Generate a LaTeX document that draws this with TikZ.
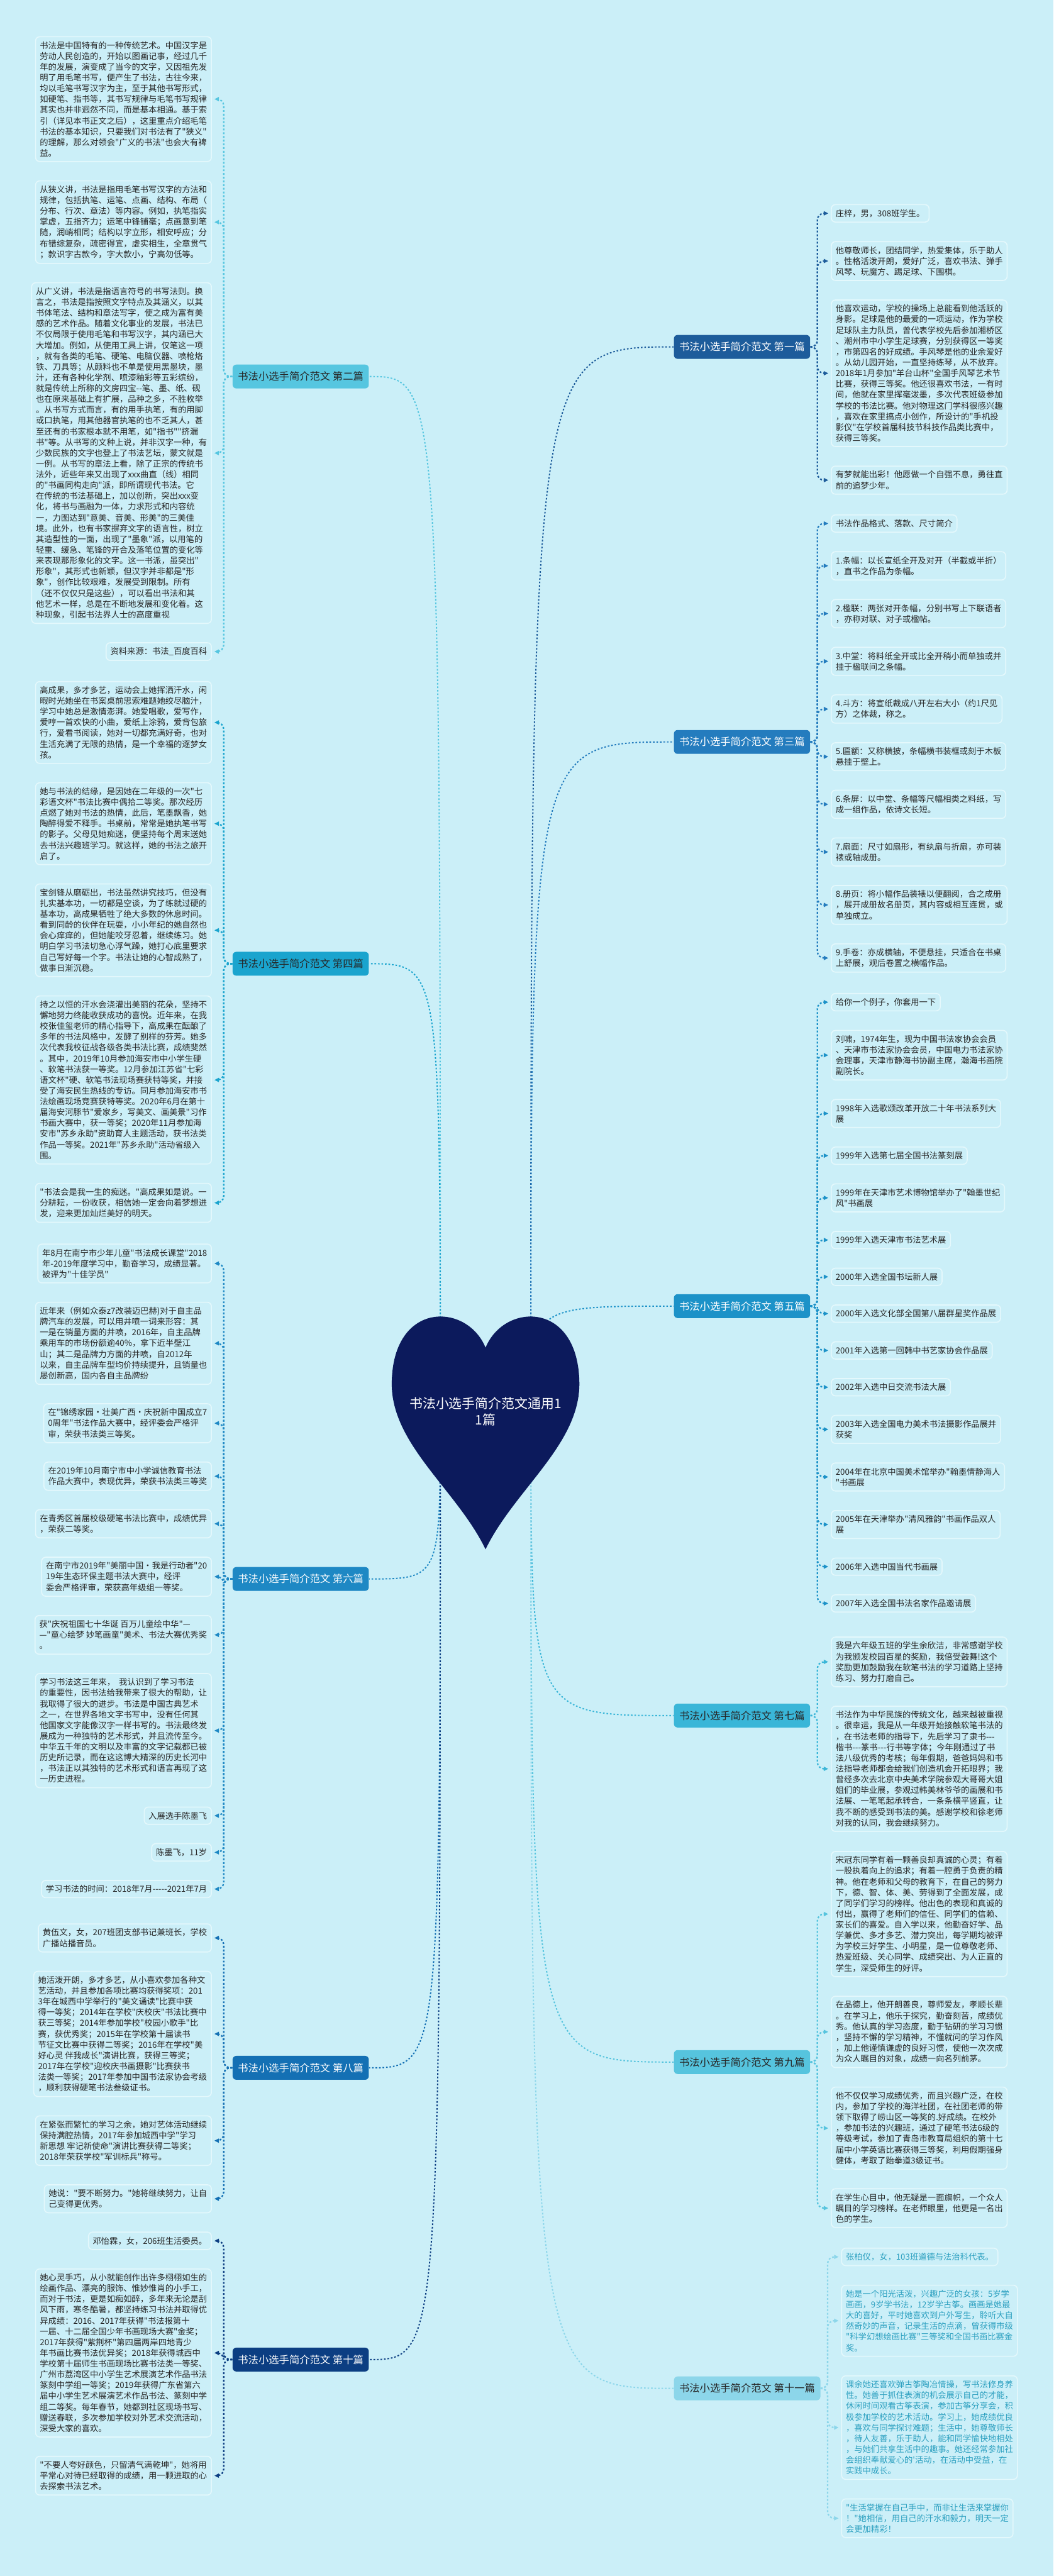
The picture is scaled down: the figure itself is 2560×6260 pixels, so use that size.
\documentclass[tikz,border=0pt]{standalone}
\usepackage{fontspec}
\setmainfont{Noto Sans CJK SC}[Ligatures=TeXOff]
\usetikzlibrary{arrows.meta,positioning,calc}

\definecolor{mapbg}  {RGB}{203,239,248}
\definecolor{boxrim} {RGB}{228,248,252}
\definecolor{inkdark}{RGB}{38,38,38}
\definecolor{inkteal}{RGB}{44,160,192}
\definecolor{hubnavy}{RGB}{12,26,92}
\definecolor{br1} {RGB}{29,92,155}
\definecolor{br2} {RGB}{86,198,224}
\definecolor{br3} {RGB}{36,124,190}
\definecolor{br4} {RGB}{26,164,206}
\definecolor{br5} {RGB}{28,146,200}
\definecolor{br6} {RGB}{30,136,196}
\definecolor{br7} {RGB}{58,182,216}
\definecolor{br8} {RGB}{20,112,180}
\definecolor{br9} {RGB}{86,196,222}
\definecolor{br10}{RGB}{12,62,130}
\definecolor{br11}{RGB}{140,214,234}

\begin{document}
\begin{tikzpicture}[
  x=0.1mm, y=-0.1mm,
  note/.style={draw=boxrim, line width=0.25mm, rounded corners=1mm, fill=mapbg,
               align=left, inner xsep=1.05mm, inner ysep=1.15mm, text=inkdark,
               font=\fontsize{5.78pt}{7.45pt}\selectfont},
  rnote/.style={note, below=4.5mm of #1.south west, anchor=north west},
  lnote/.style={note, below=4.45mm of #1.south east, anchor=north east},
  topic/.style={rounded corners=0.9mm, minimum height=5.8mm, inner xsep=1.3mm,
                inner ysep=0.5mm, font=\fontsize{7.1pt}{8.5pt}\selectfont},
  link/.style={line width=0.35mm, dash pattern=on 0.45mm off 0.45mm,
               rounded corners=1.6mm, -{Triangle[length=1.1mm,width=1mm]},
               shorten >=0.6mm},
  spoke/.style={line width=0.3mm, dash pattern=on 0.4mm off 0.45mm},
]

%% page
\fill[mapbg] (0,0) rectangle (2560,6260);
\useasboundingbox (0,0) rectangle (2560,6260);

%% branch topics
\node[topic,fill=br1,text=white,anchor=west] (t1) at (1637,843) {书法小选手简介范文 第一篇};
\node[topic,fill=br2,text=inkdark,anchor=east] (t2) at (897,915) {书法小选手简介范文 第二篇};
\node[topic,fill=br3,text=white,anchor=west] (t3) at (1637,1803) {书法小选手简介范文 第三篇};
\node[topic,fill=br4,text=inkdark,anchor=east] (t4) at (897,2342) {书法小选手简介范文 第四篇};
\node[topic,fill=br5,text=white,anchor=west] (t5) at (1637,3174) {书法小选手简介范文 第五篇};
\node[topic,fill=br6,text=white,anchor=east] (t6) at (897,3837) {书法小选手简介范文 第六篇};
\node[topic,fill=br7,text=inkdark,anchor=west] (t7) at (1637,4169) {书法小选手简介范文 第七篇};
\node[topic,fill=br8,text=white,anchor=east] (t8) at (897,5025) {书法小选手简介范文 第八篇};
\node[topic,fill=br9,text=inkdark,anchor=west] (t9) at (1637,5011) {书法小选手简介范文 第九篇};
\node[topic,fill=br10,text=white,anchor=east] (t10) at (897,5734) {书法小选手简介范文 第十篇};
\node[topic,fill=br11,text=inkdark,anchor=west] (t11) at (1637,5804) {书法小选手简介范文 第十一篇};

%% first
\node[note,anchor=north west] (b1a) at (2019,496) {庄梓，男，308班学生。};
\node[rnote=b1a] (b1b) {他尊敬师长，团结同学，热爱集体，乐于助人\\。性格活泼开朗，爱好广泛，喜欢书法、弹手\\风琴、玩魔方、踢足球、下围棋。};
\node[rnote=b1b] (b1c) {他喜欢运动，学校的操场上总能看到他活跃的\\身影。足球是他的最爱的一项运动，作为学校\\足球队主力队员，曾代表学校先后参加湘桥区\\、潮州市中小学生足球赛，分别获得区一等奖\\，市第四名的好成绩。手风琴是他的业余爱好\\。从幼儿园开始，一直坚持练琴，从不放弃。\\2018年1月参加"羊台山杯"全国手风琴艺术节\\比赛，获得三等奖。他还很喜欢书法，一有时\\间，他就在家里挥毫泼墨，多次代表班级参加\\学校的书法比赛。他对物理这门学科很感兴趣\\，喜欢在家里搞点小创作，所设计的"手机投\\影仪"在学校首届科技节科技作品类比赛中，\\获得三等奖。};
\node[rnote=b1c] (b1d) {有梦就能出彩！他愿做一个自强不息，勇往直\\前的追梦少年。};

%% second
\node[note,anchor=north east] (b2a) at (515,88) {书法是中国特有的一种传统艺术。中国汉字是\\劳动人民创造的，开始以图画记事，经过几千\\年的发展，演变成了当今的文字，又因祖先发\\明了用毛笔书写，便产生了书法，古往今来，\\均以毛笔书写汉字为主，至于其他书写形式，\\如硬笔、指书等，其书写规律与毛笔书写规律\\其实也并非迥然不同，而是基本相通。基于索\\引（详见本书正文之后），这里重点介绍毛笔\\书法的基本知识，只要我们对书法有了"狭义"\\的理解，那么对领会"广义的书法"也会大有裨\\益。};
\node[lnote=b2a] (b2b) {从狭义讲，书法是指用毛笔书写汉字的方法和\\规律，包括执笔、运笔、点画、结构、布局（\\分布、行次、章法）等内容。例如，执笔指实\\掌虚，五指齐力；运笔中锋铺毫；点画意到笔\\随，润峭相同；结构以字立形，相安呼应；分\\布错综复杂，疏密得宜，虚实相生，全章贯气\\；款识字古款今，字大款小，宁高勿低等。};
\node[lnote=b2b] (b2c) {从广义讲，书法是指语言符号的书写法则。换\\言之，书法是指按照文字特点及其涵义，以其\\书体笔法、结构和章法写字，使之成为富有美\\感的艺术作品。随着文化事业的发展，书法已\\不仅局限于使用毛笔和书写汉字，其内涵已大\\大增加。例如，从使用工具上讲，仅笔这一项\\，就有各类的毛笔、硬笔、电脑仪器、喷枪烙\\铁、刀具等；从颜料也不单是使用黑墨块，墨\\汁，还有各种化学剂、喷漆釉彩等五彩缤纷，\\就是传统上所称的文房四宝--笔、墨、纸、砚\\也在原来基础上有扩展，品种之多，不胜枚举\\。从书写方式而言，有的用手执笔，有的用脚\\或口执笔，用其他器官执笔的也不乏其人，甚\\至还有的书家根本就不用笔，如"指书""挤漏\\书"等。从书写的文种上说，并非汉字一种，有\\少数民族的文字也登上了书法艺坛，蒙文就是\\一例。从书写的章法上看，除了正宗的传统书\\法外，近些年来又出现了xxx曲直（线）相同\\的"书画同构走向"派，即所谓现代书法。它\\在传统的书法基础上，加以创新，突出xxx变\\化，将书与画融为一体，力求形式和内容统\\一，力图达到"意美、音美、形美"的三美佳\\境。此外，也有书家摒弃文字的语言性，树立\\其造型性的一面，出现了"墨象"派，以用笔的\\轻重、缓急、笔锋的开合及落笔位置的变化等\\来表现那形象化的文字。这一书派，虽突出"\\形象"，其形式也新颖，但汉字并非都是"形\\象"，创作比较艰难，发展受到限制。所有\\（还不仅仅只是这些），可以看出书法和其\\他艺术一样，总是在不断地发展和变化着。这\\种现象，引起书法界人士的高度重视};
\node[lnote=b2c] (b2d) {资料来源：书法\_百度百科};

%% third
\node[note,anchor=north west] (b3a) at (2019,1250) {书法作品格式、落款、尺寸简介};
\node[rnote=b3a] (b3b) {1.条幅：以长宣纸全开及对开（半截或半折）\\，直书之作品为条幅。};
\node[rnote=b3b] (b3c) {2.楹联：两张对开条幅，分别书写上下联语者\\，亦称对联、对子或楹帖。};
\node[rnote=b3c] (b3d) {3.中堂：将料纸全开或比全开稍小而单独或并\\挂于楹联间之条幅。};
\node[rnote=b3d] (b3e) {4.斗方：将宣纸裁成八开左右大小（约1尺见\\方）之体裁，称之。};
\node[rnote=b3e] (b3f) {5.匾额：又称横披，条幅横书装框或刻于木板\\悬挂于壁上。};
\node[rnote=b3f] (b3g) {6.条屏：以中堂、条幅等尺幅相类之料纸，写\\成一组作品，依诗文长短。};
\node[rnote=b3g] (b3h) {7.扇面：尺寸如扇形，有纨扇与折扇，亦可装\\裱或轴成册。};
\node[rnote=b3h] (b3i) {8.册页：将小幅作品装裱以便翻阅，合之成册\\，展开成册故名册页，其内容或相互连贯，或\\单独成立。};
\node[rnote=b3i] (b3j) {9.手卷：亦成横轴，不便悬挂，只适合在书桌\\上舒展，观后卷置之横幅作品。};

%% fourth
\node[note,anchor=north east] (b4a) at (515,1655) {高成果，多才多艺，运动会上她挥洒汗水，闲\\暇时光她坐在书案桌前思索难题她绞尽脑汁，\\学习中她总是激情澎湃。她爱唱歌，爱写作，\\爱哼一首欢快的小曲，爱纸上涂鸦，爱背包旅\\行，爱看书阅读，她对一切都充满好奇，也对\\生活充满了无限的热情，是一个幸福的逐梦女\\孩。};
\node[lnote=b4a] (b4b) {她与书法的结缘，是因她在二年级的一次"七\\彩语文杯"书法比赛中偶拾二等奖。那次经历\\点燃了她对书法的热情，此后，笔墨飘香，她\\陶醉得爱不释手。书桌前，常常是她执笔书写\\的影子。父母见她痴迷，便坚持每个周末送她\\去书法兴趣班学习。就这样，她的书法之旅开\\启了。};
\node[lnote=b4b] (b4c) {宝剑锋从磨砺出，书法虽然讲究技巧，但没有\\扎实基本功，一切都是空谈，为了练就过硬的\\基本功，高成果牺牲了绝大多数的休息时间。\\看到同龄的伙伴在玩耍，小小年纪的她自然也\\会心痒痒的，但她能咬牙忍着，继续练习。她\\明白学习书法切急心浮气躁，她打心底里要求\\自己写好每一个字。书法让她的心智成熟了，\\做事日渐沉稳。};
\node[lnote=b4c] (b4d) {持之以恒的汗水会浇灌出美丽的花朵，坚持不\\懈地努力终能收获成功的喜悦。近年来，在我\\校张佳玺老师的精心指导下，高成果在酝酿了\\多年的书法风格中，发酵了别样的芬芳。她多\\次代表我校征战各级各类书法比赛，成绩斐然\\。其中，2019年10月参加海安市中小学生硬\\、软笔书法获一等奖。12月参加江苏省"七彩\\语文杯"硬、软笔书法现场赛获特等奖，并接\\受了海安民生热线的专访。同月参加海安市书\\法绘画现场竞赛获特等奖。2020年6月在第十\\届海安河豚节"爱家乡，写美文、画美景"习作\\书画大赛中，获一等奖；2020年11月参加海\\安市"苏乡永助"资助育人主题活动，获书法类\\作品一等奖。2021年"苏乡永助"活动省级入\\围。};
\node[lnote=b4d] (b4e) {"书法会是我一生的痴迷。"高成果如是说。一\\分耕耘，一份收获，相信她一定会向着梦想进\\发，迎来更加灿烂美好的明天。};

%% fifth
\node[note,anchor=north west] (b5a) at (2019,2413) {给你一个例子，你套用一下};
\node[rnote=b5a] (b5b) {刘啸，1974年生，现为中国书法家协会会员\\、天津市书法家协会会员，中国电力书法家协\\会理事，天津市静海书协副主席，瀚海书画院\\副院长。};
\node[rnote=b5b] (b5c) {1998年入选歌颂改革开放二十年书法系列大\\展};
\node[rnote=b5c] (b5d) {1999年入选第七届全国书法篆刻展};
\node[rnote=b5d] (b5e) {1999年在天津市艺术博物馆举办了"翰墨世纪\\风"书画展};
\node[rnote=b5e] (b5f) {1999年入选天津市书法艺术展};
\node[rnote=b5f] (b5g) {2000年入选全国书坛新人展};
\node[rnote=b5g] (b5h) {2000年入选文化部全国第八届群星奖作品展};
\node[rnote=b5h] (b5i) {2001年入选第一回韩中书艺家协会作品展};
\node[rnote=b5i] (b5j) {2002年入选中日交流书法大展};
\node[rnote=b5j] (b5k) {2003年入选全国电力美术书法摄影作品展并\\获奖};
\node[rnote=b5k] (b5l) {2004年在北京中国美术馆举办"翰墨情静海人\\"书画展};
\node[rnote=b5l] (b5m) {2005年在天津举办"清风雅韵"书画作品双人\\展};
\node[rnote=b5m] (b5n) {2006年入选中国当代书画展};
\node[rnote=b5n] (b5o) {2007年入选全国书法名家作品邀请展};

%% sixth
\node[note,anchor=north east] (b6a) at (515,3022) {年8月在南宁市少年儿童"书法成长课堂"2018\\年-2019年度学习中，勤奋学习，成绩显著。\\被评为"十佳学员"};
\node[lnote=b6a] (b6b) {近年来（例如众泰z7改装迈巴赫)对于自主品\\牌汽车的发展，可以用井喷一词来形容：其\\一是在销量方面的井喷，2016年，自主品牌\\乘用车的市场份额逾40\%，拿下近半壁江\\山；其二是品牌力方面的井喷，自2012年\\以来，自主品牌车型均价持续提升，且销量也\\屡创新高，国内各自主品牌纷};
\node[lnote=b6b] (b6c) {在"锦绣家园•壮美广西•庆祝新中国成立7\\0周年"书法作品大赛中，经评委会严格评\\审，荣获书法类三等奖。};
\node[lnote=b6c] (b6d) {在2019年10月南宁市中小学诚信教育书法\\作品大赛中，表现优异，荣获书法类三等奖};
\node[lnote=b6d] (b6e) {在青秀区首届校级硬笔书法比赛中，成绩优异\\，荣获二等奖。};
\node[lnote=b6e] (b6f) {在南宁市2019年"美丽中国•我是行动者"20\\19年生态环保主题书法大赛中，经评\\委会严格评审，荣获高年级组一等奖。};
\node[lnote=b6f] (b6g) {获"庆祝祖国七十华诞 百万儿童绘中华"—\\—"童心绘梦 妙笔画童"美术、书法大赛优秀奖\\。};
\node[lnote=b6g] (b6h) {学习书法这三年来，\ \ 我认识到了学习书法\\的重要性，因书法给我带来了很大的帮助，让\\我取得了很大的进步。书法是中国古典艺术\\之一，在世界各地文字书写中，没有任何其\\他国家文字能像汉字一样书写的。书法最终发\\展成为一种独特的艺术形式，并且流传至今。\\中华五千年的文明以及丰富的文字记载都已被\\历史所记录，而在这这博大精深的历史长河中\\，书法正以其独特的艺术形式和语言再现了这\\一历史进程。};
\node[lnote=b6h] (b6i) {入展选手陈墨飞};
\node[lnote=b6i] (b6j) {陈墨飞，11岁};
\node[lnote=b6j] (b6k) {学习书法的时间：2018年7月-----2021年7月};

%% seventh
\node[note,anchor=north west] (b7a) at (2019,3977) {我是六年级五班的学生余欣洁，非常感谢学校\\为我颁发校园百星的奖励，我倍受鼓舞!这个\\奖励更加鼓励我在软笔书法的学习道路上坚持\\练习、努力打磨自己。};
\node[rnote=b7a] (b7b) {书法作为中华民族的传统文化，越来越被重视\\。很幸运，我是从一年级开始接触软笔书法的\\，在书法老师的指导下，先后学习了隶书---\\楷书---篆书---行书等字体；今年刚通过了书\\法八级优秀的考核；每年假期，爸爸妈妈和书\\法指导老师都会给我们创造机会开拓眼界；我\\曾经多次去北京中央美术学院参观大哥哥大姐\\姐们的毕业展，参观过韩美林爷爷的画展和书\\法展、一笔笔起承转合，一条条横平竖直，让\\我不断的感受到书法的美。感谢学校和徐老师\\对我的认同，我会继续努力。};

%% eighth
\node[note,anchor=north east] (b8a) at (515,4674) {黄伍文，女，207班团支部书记兼班长，学校\\广播站播音员。};
\node[lnote=b8a] (b8b) {她活泼开朗，多才多艺，从小喜欢参加各种文\\艺活动，并且参加各项比赛均获得奖项：201\\3年在城西中学举行的"美文诵读"比赛中获\\得一等奖；2014年在学校"庆校庆"书法比赛中\\获三等奖；2014年参加学校"校园小歌手"比\\赛，获优秀奖；2015年在学校第十届读书\\节征文比赛中获得二等奖；2016年在学校"美\\好心灵 伴我成长"演讲比赛，获得三等奖；\\2017年在学校"迎校庆书画摄影"比赛获书\\法类一等奖；2017年参加中国书法家协会考级\\，顺利获得硬笔书法叁级证书。};
\node[lnote=b8b] (b8c) {在紧张而繁忙的学习之余，她对艺体活动继续\\保持满腔热情，2017年参加城西中学"学习\\新思想 牢记新使命"演讲比赛获得二等奖；\\2018年荣获学校"军训标兵"称号。};
\node[lnote=b8c] (b8d) {她说："要不断努力。"她将继续努力，让自\\己变得更优秀。};

%% ninth
\node[note,anchor=north west] (b9a) at (2019,4498) {宋冠东同学有着一颗善良却真诚的心灵；有着\\一股执着向上的追求；有着一腔勇于负责的精\\神。他在老师和父母的教育下，在自己的努力\\下，德、智、体、美、劳得到了全面发展，成\\了同学们学习的榜样。他出色的表现和真诚的\\付出，赢得了老师们的信任、同学们的信赖、\\家长们的喜爱。自入学以来，他勤奋好学、品\\学兼优、多才多艺、潜力突出，每学期均被评\\为学校三好学生、小明星，是一位尊敬老师、\\热爱班级、关心同学、成绩突出、为人正直的\\学生，深受师生的好评。};
\node[rnote=b9a] (b9b) {在品德上，他开朗善良，尊师爱友，孝顺长辈\\。在学习上，他乐于探究，勤奋刻苦，成绩优\\秀。他认真的学习态度，勤于钻研的学习习惯\\，坚持不懈的学习精神，不懂就问的学习作风\\，加上他谨慎谦虚的良好习惯，使他一次次成\\为众人瞩目的对象，成绩一向名列前茅。};
\node[rnote=b9b] (b9c) {他不仅仅学习成绩优秀，而且兴趣广泛，在校\\内，参加了学校的海洋社团，在社团老师的带\\领下取得了崂山区一等奖的.好成绩。在校外\\，参加书法的兴趣班，通过了硬笔书法6级的\\等级考试，参加了青岛市教育局组织的第十七\\届中小学英语比赛获得三等奖，利用假期强身\\健体，考取了跆拳道3级证书。};
\node[rnote=b9c] (b9d) {在学生心目中，他无疑是一面旗帜，一个众人\\瞩目的学习榜样。在老师眼里，他更是一名出\\色的学生。};

%% tenth
\node[note,anchor=north east] (b10a) at (515,5423) {邓怡霖，女，206班生活委员。};
\node[lnote=b10a] (b10b) {她心灵手巧，从小就能创作出许多栩栩如生的\\绘画作品、漂亮的服饰、惟妙惟肖的小手工，\\而对于书法，更是如痴如醉，多年来无论是刮\\风下雨，寒冬酷暑，都坚持练习书法并取得优\\异成绩：2016、2017年获得"书法报第十\\一届、十二届全国少年书画现场大赛"金奖；\\2017年获得"紫荆杯"第四届两岸四地青少\\年书画比赛书法优异奖；2018年获得城西中\\学校第十届师生书画现场比赛书法类一等奖、\\广州市荔湾区中小学生艺术展演艺术作品书法\\篆刻中学组一等奖；2019年获得广东省第六\\届中小学生艺术展演艺术作品书法、篆刻中学\\组二等奖。每年春节，她都到社区现场书写、\\赠送春联，多次参加学校对外艺术交流活动，\\深受大家的喜欢。};
\node[lnote=b10b] (b10c) {"不要人夸好颜色，只留清气满乾坤"，她将用\\平常心对待已经取得的成绩，用一颗进取的心\\去探索书法艺术。};

%% eleventh
\node[note,text=inkteal,anchor=north west] (b11a) at (2044,5462) {张柏仪，女，103班道德与法治科代表。};
\node[rnote=b11a,text=inkteal] (b11b) {她是一个阳光活泼，兴趣广泛的女孩：5岁学\\画画，9岁学书法，12岁学古筝。画画是她最\\大的喜好，平时她喜欢到户外写生，聆听大自\\然奇妙的声音，记录生活的点滴，曾获得市级\\"科学幻想绘画比赛"三等奖和全国书画比赛金\\奖。};
\node[rnote=b11b,text=inkteal] (b11c) {课余她还喜欢弹古筝陶冶情操，写书法修身养\\性。她善于抓住表演的机会展示自己的才能，\\休闲时间观看古筝表演，参加古筝分享会，积\\极参加学校的艺术活动。学习上，她成绩优良\\，喜欢与同学探讨难题；生活中，她尊敬师长\\，待人友善，乐于助人，能和同学愉快地相处\\，与她们共享生活中的趣事。她还经常参加社\\会组织奉献爱心的'活动，在活动中受益，在\\实践中成长。};
\node[rnote=b11c,text=inkteal] (b11d) {"生活掌握在自己手中，而非让生活来掌握你\\！"她相信，用自己的汗水和毅力，明天一定\\会更加精彩！};

%% links from topics to notes
\foreach \n in {b1a,b1b,b1c,b1d}
  \draw[link,br1] (t1.east) -- ++(17,0) |- (\n.west);
\foreach \n in {b3a,b3b,b3c,b3d,b3e,b3f,b3g,b3h,b3i,b3j}
  \draw[link,br3] (t3.east) -- ++(17,0) |- (\n.west);
\foreach \n in {b5a,b5b,b5c,b5d,b5e,b5f,b5g,b5h,b5i,b5j,b5k,b5l,b5m,b5n,b5o}
  \draw[link,br5] (t5.east) -- ++(17,0) |- (\n.west);
\foreach \n in {b7a,b7b}
  \draw[link,br7] (t7.east) -- ++(17,0) |- (\n.west);
\foreach \n in {b9a,b9b,b9c,b9d}
  \draw[link,br9] (t9.east) -- ++(17,0) |- (\n.west);
\foreach \n in {b11a,b11b,b11c,b11d}
  \draw[link,br11] (t11.east) -- ++(17,0) |- (\n.west);

\foreach \n in {b2a,b2b,b2c,b2d}
  \draw[link,br2] (t2.west) -- ++(-21,0) |- (\n.east);
\foreach \n in {b4a,b4b,b4c,b4d,b4e}
  \draw[link,br4] (t4.west) -- ++(-21,0) |- (\n.east);
\foreach \n in {b6a,b6b,b6c,b6d,b6e,b6f,b6g,b6h,b6i,b6j,b6k}
  \draw[link,br6] (t6.west) -- ++(-21,0) |- (\n.east);
\foreach \n in {b8a,b8b,b8c,b8d}
  \draw[link,br8] (t8.west) -- ++(-21,0) |- (\n.east);
\foreach \n in {b10a,b10b,b10c}
  \draw[link,br10] (t10.west) -- ++(-21,0) |- (\n.east);

%% spokes from the heart
\coordinate (hubR) at (1290,3440);
\coordinate (hubL) at (1070,3440);
\foreach \t/\c in {t1/br1,t3/br3,t5/br5,t7/br7,t9/br9,t11/br11}
  \draw[spoke,\c] (hubR) .. controls (hubR |- \t.west) .. (\t.west);
\foreach \t/\c in {t2/br2,t4/br4,t6/br6,t8/br8,t10/br10}
  \draw[spoke,\c] (hubL) .. controls (hubL |- \t.east) .. (\t.east);

%% central heart
\fill[hubnavy] (1180,3275) .. controls (1135,3165) and (955,3160) .. (952,3360)
  .. controls (950,3510) and (1110,3620) .. (1180,3765)
  .. controls (1250,3620) and (1410,3510) .. (1408,3360)
  .. controls (1405,3160) and (1225,3165) .. cycle;
\node[text=white,align=center,font=\fontsize{9.1pt}{11.4pt}\selectfont] (hub) at (1180,3430)
  {书法小选手简介范文通用1\\1篇};

\end{tikzpicture}
\end{document}
